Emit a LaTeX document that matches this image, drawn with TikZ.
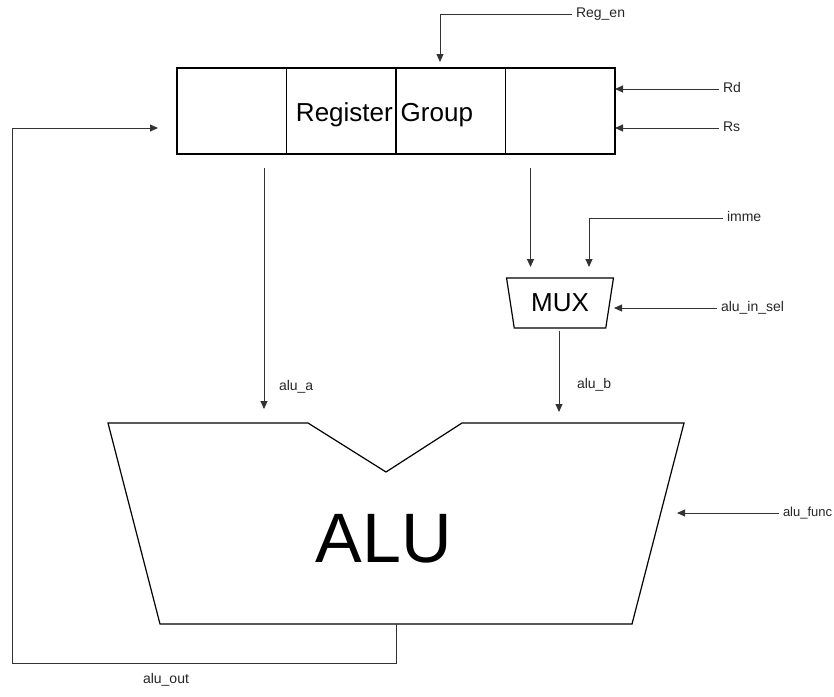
\documentclass[tikz,border=0pt]{standalone}
\usepackage{fontspec}
\setmainfont{Liberation Sans}
\usetikzlibrary{arrows.meta}
\usetikzlibrary{positioning}
\usetikzlibrary{shapes.geometric}

\tikzset{
  regcell/.style={draw,line width=1.2pt,minimum width=109.5pt,minimum height=86pt,inner sep=0pt,outer sep=0pt},
  sig/.style={-{Triangle[length=8pt,width=7pt]},line width=0.9pt,black!80},
  lbl/.style={inner sep=0pt,outer sep=4pt,text height=10pt,text depth=3pt,text=black!85,font=\fontsize{14}{16}\selectfont},
}

\begin{document}
\begin{tikzpicture}[x=1pt,y=-1pt]
  \useasboundingbox (0,0) rectangle (834,696);

  % register group
  \node[regcell] (r1) at (231.75,111) {};
  \node[regcell,right=0pt of r1] (r2) {};
  \node[regcell,right=0pt of r2] (r3) {};
  \node[regcell,right=0pt of r3] (r4) {};
  \node[anchor=base east,yshift=-10pt,inner sep=3pt,font=\fontsize{26}{29}\selectfont] (regtxt) at (r2.east) {Register};
  \node[anchor=base west,yshift=-10pt,inner sep=4.5pt,font=\fontsize{26}{29}\selectfont] (grptxt) at (r3.west) {Group};

  % mux
  \node[draw,trapezium,shape border rotate=180,trapezium angle=75,trapezium stretches=true,
        minimum width=107pt,minimum height=50pt,inner sep=0pt,line width=1.2pt,
        font=\fontsize{26}{28}\selectfont] (mux) at (560,303) {MUX};

  % alu
  \draw[line width=1.2pt] (108,423) -- (308,423) -- (386,472) -- (462,423) -- (684,423)
    -- (632,624) -- (160,624) -- cycle;
  \node[font=\fontsize{70}{72}\selectfont] (alu) at (384,539) {ALU};

  % signal labels
  \node[lbl,anchor=west] (regen) at (572,14) {Reg\_en};
  \node[lbl,anchor=west] (rd) at (719,89) {Rd};
  \node[lbl,anchor=west] (rs) at (719,128) {Rs};
  \node[lbl,anchor=west] (imme) at (723,218) {imme};
  \node[lbl,anchor=west] (insel) at (717,308) {alu\_in\_sel};
  \node[lbl,anchor=west,font=\fontsize{13}{15}\selectfont] (func) at (779,513) {alu\_func};
  \node[lbl,anchor=west] (alua) at (275,387) {alu\_a};
  \node[lbl,anchor=west] (alub) at (573,385) {alu\_b};
  \node[lbl] (aluout) at (166,680) {alu\_out};

  % arrow ends
  \coordinate (enIn) at (440,62);
  \coordinate (muxIn1) at (530.5,267);
  \coordinate (muxIn2) at (589,267);
  \coordinate (selIn) at (614,308);
  \coordinate (aluA) at (264,409);
  \coordinate (aluB) at (559,412);
  \coordinate (funcIn) at (677,513);
  \coordinate (aluBot) at (396,624);
  \coordinate (fbCorner) at (12,663);
  \coordinate (fbIn) at (158,128);

  \draw[sig] (regen.west) -| (enIn);
  \draw[sig] (rd.west) -- (r4.east |- rd.west);
  \draw[sig] (rs.west) -- (r4.east |- rs.west);
  \draw[sig] ([yshift=-14pt]r1.south -| aluA) -- (aluA);
  \draw[sig] ([yshift=-14pt]r4.south -| muxIn1) -- (muxIn1);
  \draw[sig] (imme.west) -| (muxIn2);
  \draw[sig] (insel.west) -- (selIn);
  \draw[sig] ([yshift=-2pt]mux.south -| aluB) -- (aluB);
  \draw[sig] (func.west) -- (funcIn);
  \draw[sig] (aluBot) |- (fbCorner) |- (fbIn);
\end{tikzpicture}
\end{document}
